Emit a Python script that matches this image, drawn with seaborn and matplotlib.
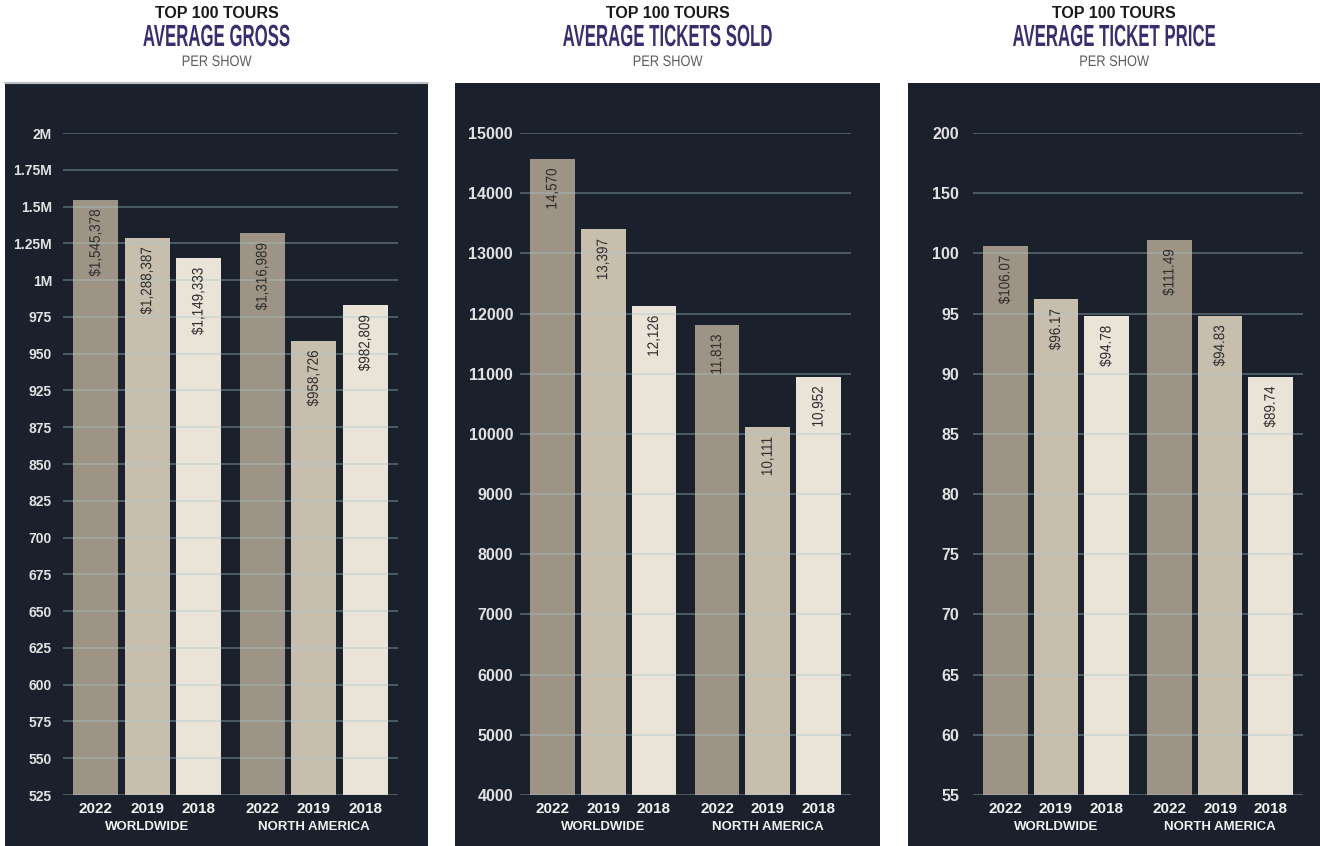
import numpy as np
import pandas as pd
import matplotlib
matplotlib.use("Agg")
import matplotlib.pyplot as plt
from matplotlib.patches import Rectangle
from matplotlib.lines import Line2D
from matplotlib.patheffects import AbstractPathEffect
from matplotlib.transforms import Affine2D
import seaborn as sns

# ---------------- data ----------------
years = ["2022", "2019", "2018"]
regions = ["WORLDWIDE", "NORTH AMERICA"]

gross_ww = [1545378, 1288387, 1149333]
gross_na = [1316989, 958726, 982809]
tickets_ww = [14570, 13397, 12126]
tickets_na = [11813, 10111, 10952]
price_ww = [106.07, 96.17, 94.78]
price_na = [111.49, 94.83, 89.74]

gross_ticks = [525000, 550000, 575000, 600000, 625000, 650000, 675000, 700000,
               825000, 850000, 875000, 925000, 950000, 975000,
               1000000, 1250000, 1500000, 1750000, 2000000]
gross_tick_labels = ["525", "550", "575", "600", "625", "650", "675", "700",
                     "825", "850", "875", "925", "950", "975",
                     "1M", "1.25M", "1.5M", "1.75M", "2M"]
tickets_ticks = [4000, 5000, 6000, 7000, 8000, 9000, 10000, 11000, 12000, 13000, 14000, 15000]
tickets_tick_labels = [str(t) for t in tickets_ticks]
price_ticks = [55, 60, 65, 70, 75, 80, 85, 90, 95, 100, 150, 200]
price_tick_labels = [str(t) for t in price_ticks]

titles = ["AVERAGE GROSS", "AVERAGE TICKETS SOLD", "AVERAGE TICKET PRICE"]
supertitle = "TOP 100 TOURS"
subtitle = "PER SHOW"

bar_colors = ["#9e9486", "#c7beae", "#e9e3d8"]
panel_bg = "#1a212c"
title_purple = "#3b2e6e"


class Condense(AbstractPathEffect):
    """Horizontally condense the glyphs of a text (narrow font look)."""

    def __init__(self, sx, anchor="center"):
        super().__init__()
        self.sx = sx
        self.anchor = anchor

    def draw_path(self, renderer, gc, tpath, affine, rgbFace=None):
        v = tpath.vertices
        if len(v):
            c = v[:, 0].max() if self.anchor == "max" else (v[:, 0].min() + v[:, 0].max()) / 2
        else:
            c = 0.0
        t = Affine2D().translate(-c, 0).scale(self.sx, 1).translate(c, 0) + affine
        renderer.draw_path(gc, tpath, t, rgbFace)


# ---------------- figure ----------------
sns.set_theme(style="white")
plt.rcParams["font.family"] = ["Liberation Sans", "DejaVu Sans"]

W, H = 1320, 846
fig = plt.figure(figsize=(W / 100, H / 100), dpi=100)
fig.patch.set_facecolor("white")

panels = [
    dict(bg=(5, 428), ax=(63, 398), ww=gross_ww, na=gross_na, ticks=gross_ticks,
         labels=gross_tick_labels, fmt=lambda v: "${:,.0f}".format(v), nonlin=True,
         tfs=10, pad=8),
    dict(bg=(455, 880), ax=(520, 851), ww=tickets_ww, na=tickets_na, ticks=tickets_ticks,
         labels=tickets_tick_labels, fmt=lambda v: "{:,.0f}".format(v), nonlin=False,
         tfs=11.5, pad=5),
    dict(bg=(908, 1320), ax=(973, 1303), ww=price_ww, na=price_na, ticks=price_ticks,
         labels=price_tick_labels, fmt=lambda v: "${:.2f}".format(v), nonlin=True,
         tfs=11.5, pad=10),
]

ax_top, ax_bot = 133, 795
bg_top = 83

for k, p in enumerate(panels):
    x0, x1 = p["bg"]
    fig.add_artist(Rectangle((x0 / W, 0), (x1 - x0) / W, (H - bg_top) / H,
                             transform=fig.transFigure, facecolor=panel_bg,
                             edgecolor="none", zorder=-5))
    if k == 0:
        fig.add_artist(Line2D([x0 / W, x1 / W], [(H - bg_top) / H] * 2,
                              transform=fig.transFigure, color="#b9bec4", lw=1.5, zorder=-4))
    cx = (x0 + x1) / 2 / W
    fig.text(cx, 1 - 14 / H, supertitle, ha="center", va="center", fontsize=11.5,
             fontweight="bold", color="#1a1a1a")
    fig.text(cx, 1 - 38 / H, titles[k], ha="center", va="center", fontsize=22,
             fontweight="bold", color=title_purple, path_effects=[Condense(0.55)])
    fig.text(cx, 1 - 62 / H, subtitle, ha="center", va="center", fontsize=11,
             color="#5e5e5e", path_effects=[Condense(0.84)])

    a0, a1 = p["ax"]
    ax = fig.add_axes([a0 / W, (H - ax_bot) / H, (a1 - a0) / W, (ax_bot - ax_top) / H])
    ax.set_facecolor(panel_bg)

    df = pd.DataFrame({
        "region": [regions[0]] * 3 + [regions[1]] * 3,
        "year": years + years,
        "value": list(p["ww"]) + list(p["na"]),
    })

    ticks = np.array(p["ticks"], dtype=float)
    if p["nonlin"]:
        idx = np.arange(len(ticks), dtype=float)
        ax.set_yscale("function",
                      functions=(lambda v, t=ticks, i=idx: np.interp(v, t, i),
                                 lambda q, t=ticks, i=idx: np.interp(q, i, t)))

    sns.barplot(data=df, x="region", y="value", hue="year", order=regions,
                hue_order=years, palette=bar_colors, saturation=1, width=0.925,
                gap=0.12, errorbar=None, legend=False, ax=ax, zorder=1,
                linewidth=0, edgecolor="none")

    ax.set_ylim(ticks[0], ticks[-1])
    ax.set_xlim(-0.505, 1.505)
    ax.set_yticks(ticks)
    ax.set_yticklabels(p["labels"])
    ax.yaxis.set_minor_locator(matplotlib.ticker.NullLocator())
    ax.tick_params(axis="y", length=0, pad=p["pad"], labelsize=p["tfs"],
                   labelcolor="#e2e2e2")
    for t in ax.get_yticklabels():
        t.set_fontweight("bold")
    ax.set_xticks([])
    ax.set_xlabel("")
    ax.set_ylabel("")
    for s in ax.spines.values():
        s.set_visible(False)
    ax.set_axisbelow(False)
    ax.yaxis.grid(True, color="#a9c6ce", alpha=0.45, lw=1.1)
    ax.xaxis.grid(False)

    values = [p["ww"], p["na"]]
    for i, cont in enumerate(ax.containers):
        for j, bar in enumerate(cont):
            xc = bar.get_x() + bar.get_width() / 2
            top = bar.get_y() + bar.get_height()
            ax.annotate(p["fmt"](values[j][i]), xy=(xc, top), xytext=(0, -7),
                        textcoords="offset points", rotation=90, ha="center",
                        va="top", fontsize=11, color="#2e2e2e", zorder=4,
                        path_effects=[Condense(0.88, anchor="max")])
            ax.annotate(years[i], xy=(xc, 0), xycoords=("data", "axes fraction"),
                        xytext=(0, -5), textcoords="offset points", ha="center",
                        va="top", fontsize=11, fontweight="bold", color="#f0f0f0",
                        annotation_clip=False)
    for j, reg in enumerate(regions):
        ax.annotate(reg, xy=(j, 0), xycoords=("data", "axes fraction"),
                    xytext=(0, -19), textcoords="offset points", ha="center",
                    va="top", fontsize=9.5, fontweight="bold", color="#f0f0f0",
                    annotation_clip=False)

fig.savefig("out.png", dpi=100, facecolor="white")
